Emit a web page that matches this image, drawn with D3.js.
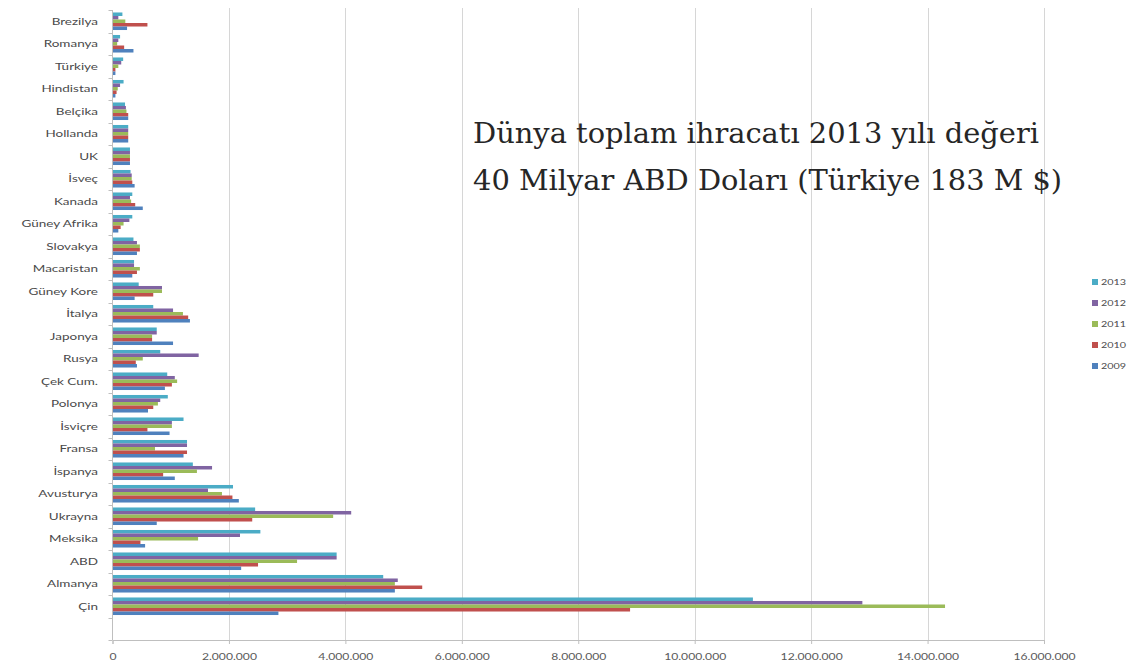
<!DOCTYPE html>
<html lang="tr">
<head>
<meta charset="utf-8">
<script src="https://cdn.jsdelivr.net/npm/d3@7"></script>
<style>
  html, body { margin: 0; padding: 0; background: #fff; }
  svg { display: block; }
</style>
</head>
<body>
<svg id="chart" width="1145" height="668"></svg>
<script>
// Exporting countries, top to bottom as drawn
const countries = [
  "Brezilya", "Romanya", "Türkiye", "Hindistan", "Belçika", "Hollanda", "UK",
  "İsveç", "Kanada", "Güney Afrika", "Slovakya", "Macaristan", "Güney Kore",
  "İtalya", "Japonya", "Rusya", "Çek Cum.", "Polonya", "İsviçre", "Fransa",
  "İspanya", "Avusturya", "Ukrayna", "Meksika", "ABD", "Almanya", "Çin"
];

// Series, in the order the bars are stacked inside each group (top first)
const years = ["2013", "2012", "2011", "2010", "2009"];

// Export values (thousand USD), one array per year, same order as countries
const v2013 = [170, 130, 183, 190, 215, 270, 300, 310, 340, 340, 360, 370, 450,
  700, 760, 820, 940, 950, 1220, 1280, 1380, 2070, 2450, 2540, 3850, 4650, 11000];
const v2012 = [100, 100, 150, 130, 230, 270, 300, 330, 300, 290, 420, 370, 850,
  1040, 760, 1480, 1070, 820, 1020, 1280, 1710, 1640, 4100, 2190, 3850, 4900, 12880];
const v2011 = [220, 80, 100, 90, 240, 270, 300, 330, 320, 190, 470, 470, 850,
  1210, 680, 520, 1110, 780, 1020, 730, 1450, 1880, 3790, 1470, 3170, 4850, 14300];
const v2010 = [600, 200, 50, 70, 270, 270, 300, 340, 390, 140, 470, 420, 700,
  1300, 680, 400, 1020, 700, 600, 1280, 870, 2060, 2400, 480, 2500, 5320, 8890];
const v2009 = [250, 360, 50, 50, 270, 270, 300, 380, 520, 100, 420, 340, 380,
  1330, 1040, 420, 900, 610, 980, 1220, 1070, 2170, 760, 560, 2210, 4850, 2850];

// Value-axis ticks
const xTicks = [0, 2000000, 4000000, 6000000, 8000000, 10000000, 12000000, 14000000, 16000000];

// Note text
const noteLines = [
  "Dünya toplam ihracatı 2013 yılı değeri",
  "40 Milyar ABD Doları (Türkiye 183 M $)"
];

const seriesValues = { "2013": v2013, "2012": v2012, "2011": v2011, "2010": v2010, "2009": v2009 };
const colors = { "2013": "#4BACC6", "2012": "#8064A2", "2011": "#9BBB59", "2010": "#C0504D", "2009": "#4F81BD" };

const svg = d3.select("#chart");

const plotLeft = 112.5, plotRight = 1044, plotTop = 10, axisY = 640;
const slots = countries.length + 1;          // one empty slot under the last group
const step = (axisY - plotTop) / slots;
const wide = "scale(1.35,1)";                // chart labels are set wide

const x = d3.scaleLinear().domain([0, 16000000]).range([plotLeft, plotRight]);
const y = d3.scaleBand().domain(countries)
  .range([plotTop, axisY - step])
  .paddingInner(0.22).paddingOuter(0.11);
const yInner = d3.scaleBand().domain(years).range([0, y.bandwidth()]);

const fmt = d3.formatLocale({ decimal: ",", thousands: ".", grouping: [3], currency: ["", ""] }).format(",d");

// Gridlines
svg.append("g")
  .selectAll("line")
  .data(xTicks.slice(1))
  .join("line")
  .attr("x1", d => Math.round(x(d)) + 0.5)
  .attr("x2", d => Math.round(x(d)) + 0.5)
  .attr("y1", 8)
  .attr("y2", axisY)
  .attr("stroke", "#d6d6d6")
  .attr("stroke-width", 1);

// Bars
const rows = countries.map((c, i) => ({ country: c, vals: years.map(yr => ({ year: yr, value: seriesValues[yr][i] * 1000 })) }));
const groups = svg.append("g").selectAll("g")
  .data(rows)
  .join("g")
  .attr("transform", d => `translate(0,${y(d.country)})`);
groups.selectAll("rect")
  .data(d => d.vals)
  .join("rect")
  .attr("x", x(0))
  .attr("y", d => yInner(d.year))
  .attr("width", d => x(d.value) - x(0))
  .attr("height", yInner.bandwidth())
  .attr("fill", d => colors[d.year]);

// Value axis
const xAxis = d3.axisBottom(x).tickValues(xTicks).tickFormat(fmt).tickSize(4).tickPadding(10);
const gx = svg.append("g").attr("transform", `translate(0,${axisY})`).call(xAxis);
gx.select(".domain").attr("stroke", "#bfbfbf");
gx.selectAll(".tick line").attr("stroke", "#bfbfbf");
gx.selectAll(".tick text")
  .attr("fill", "#595959")
  .attr("transform", wide)
  .style("font-family", "Lato, 'Liberation Sans', sans-serif")
  .style("font-size", "9px");

// Category axis
const catTicks = d3.range(slots + 1).map(i => plotTop + i * step);
svg.append("line")
  .attr("x1", plotLeft).attr("x2", plotLeft)
  .attr("y1", plotTop).attr("y2", axisY)
  .attr("stroke", "#bfbfbf");
svg.append("g").selectAll("line")
  .data(catTicks)
  .join("line")
  .attr("x1", plotLeft - 4).attr("x2", plotLeft)
  .attr("y1", d => Math.round(d) + 0.5).attr("y2", d => Math.round(d) + 0.5)
  .attr("stroke", "#bfbfbf");
svg.append("g").selectAll("text")
  .data(countries)
  .join("text")
  .attr("transform", d => `translate(98,${y(d) + y.bandwidth() / 2}) ${wide}`)
  .attr("dy", "0.35em")
  .attr("text-anchor", "end")
  .attr("fill", "#4a4a4a")
  .style("font-family", "Lato, 'Liberation Sans', sans-serif")
  .style("font-size", "10px")
  .text(d => d);

// Legend
const legend = svg.append("g").attr("transform", "translate(1092,282)");
const li = legend.selectAll("g")
  .data(years)
  .join("g")
  .attr("transform", (d, i) => `translate(0,${i * 21})`);
li.append("rect").attr("x", 0).attr("y", -3).attr("width", 6).attr("height", 6).attr("fill", d => colors[d]);
li.append("text")
  .attr("transform", `translate(9,0) ${wide}`)
  .attr("dy", "0.35em")
  .attr("fill", "#4a4a4a")
  .style("font-family", "Lato, 'Liberation Sans', sans-serif")
  .style("font-size", "8px")
  .text(d => d);

// Note
svg.append("g").selectAll("text")
  .data(noteLines)
  .join("text")
  .attr("transform", (d, i) => `translate(473,${143 + i * 47}) scale(1.07,1)`)
  .attr("fill", "#262626")
  .style("font-family", "'DejaVu Serif', serif")
  .style("font-size", "27px")
  .text(d => d);
</script>
</body>
</html>
